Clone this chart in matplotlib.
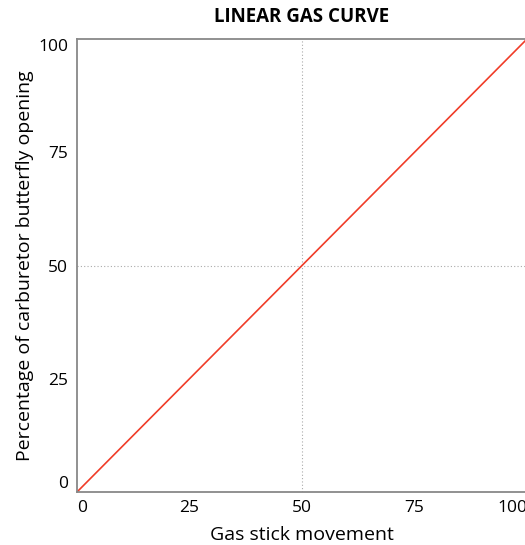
import matplotlib
matplotlib.use("Agg")
import matplotlib.pyplot as plt

stick = [0, 100]
opening = [0, 100]
ticks = [0, 25, 50, 75, 100]
tick_labels = ["0", "25", "50", "75", "100"]

plt.rcParams['font.family'] = ['Open Sans', 'DejaVu Sans']
fig = plt.figure(figsize=(5.25, 5.45), dpi=100)
ax = fig.add_axes([77/525, 53/545, 450/525, 453/545])
ax.plot(stick, opening, color='#f03c28', lw=1.2, solid_capstyle='butt', clip_on=False)
ax.set_xlim(0, 100)
ax.set_ylim(0, 100)
ax.set_xticks(ticks)
ax.set_xticklabels(tick_labels, fontsize=12.5)
ax.set_yticks(ticks)
ax.set_yticklabels(tick_labels, fontsize=12.5)
ax.tick_params(length=0)
ax.tick_params(axis='x', pad=6)
ax.tick_params(axis='y', pad=6.5)
xl = ax.get_xticklabels()
xl[0].set_ha('left'); xl[-1].set_ha('right')
yl = ax.get_yticklabels()
yl[0].set_va('bottom'); yl[-1].set_va('top')
ax.axvline(50, color='#aaaaaa', lw=0.8, ls=(0, (1, 2)), zorder=0)
ax.axhline(50, color='#aaaaaa', lw=0.8, ls=(0, (1, 2)), zorder=0)
ax.spines['right'].set_visible(False)
for s in ['left', 'top', 'bottom']:
    ax.spines[s].set_color('#888888')
    ax.spines[s].set_linewidth(1.3)
ax.set_xlabel("Gas stick movement", fontsize=14, labelpad=7)
ax.set_ylabel("Percentage of carburetor butterfly opening", fontsize=14, labelpad=3)
fig.text(302/525, 1 - 17/545, "LINEAR GAS CURVE", ha='center', va='center', fontsize=13.5, fontweight='bold')
fig.savefig("out.png", dpi=100)
